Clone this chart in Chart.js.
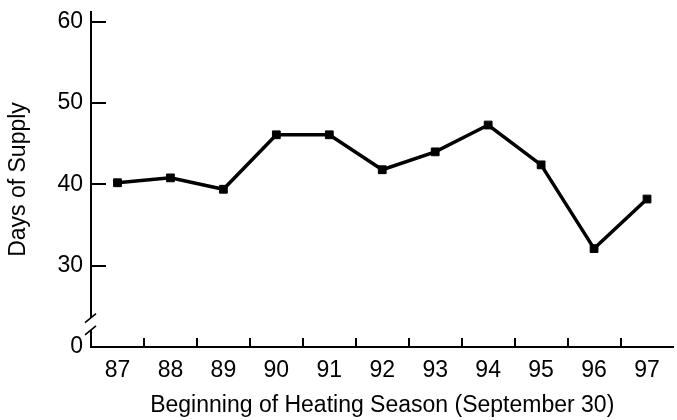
<!DOCTYPE html>
<html>
<head>
<meta charset="utf-8">
<script src="https://cdn.jsdelivr.net/npm/chart.js@4/dist/chart.umd.min.js"></script>
<style>
  html, body { margin: 0; padding: 0; background: #fff; overflow: hidden; }
  #wrap { width: 680px; height: 420px; }
</style>
</head>
<body>
<div id="wrap"><canvas id="supply-line-chart"></canvas></div>
<script>
// heating season start years
var seasons = ['87', '88', '89', '90', '91', '92', '93', '94', '95', '96', '97'];
// days of supply at the start of each season
var daysOfSupply = [40.2, 40.8, 39.4, 46.1, 46.1, 41.8, 44.0, 47.3, 42.4, 32.1, 38.2];
// y axis is broken below 30, the "0" tick sits where 20 would be
var yTickValues = [20, 30, 40, 50, 60];
var yTickLabels = ['0', '30', '40', '50', '60'];

Chart.defaults.font.family = '"Liberation Sans", Arial, sans-serif';
Chart.defaults.color = '#000';

// tick marks drawn inside the plot, plus the axis break
var innerTicks = {
    id: 'innerTicks',
    afterDraw: function(chart){
        var ctx = chart.ctx;
        var x = chart.scales.x, y = chart.scales.y;
        ctx.save();
        ctx.strokeStyle = '#000';
        ctx.lineWidth = 2;
        ctx.beginPath();
        yTickValues.forEach(function(v){
            if (v === yTickValues[0]) return;
            var py = Math.round(y.getPixelForValue(v));
            ctx.moveTo(y.right, py);
            ctx.lineTo(y.right + 15, py);
        });
        for (var i = 1; i < seasons.length; i++) {
            var px = Math.round((x.getPixelForValue(i - 1) + x.getPixelForValue(i)) / 2);
            ctx.moveTo(px, x.top);
            ctx.lineTo(px, x.top - 9);
        }
        ctx.stroke();

        // axis break
        var b1 = y.getPixelForValue(23.6), b2 = y.getPixelForValue(22.1);
        ctx.fillStyle = '#fff';
        ctx.fillRect(y.right - 3, b1, 6, b2 - b1);
        ctx.lineWidth = 1.6;
        ctx.beginPath();
        [b1, b2].forEach(function(b){
            ctx.moveTo(y.right - 6, b + 5);
            ctx.lineTo(y.right + 5, b - 4);
        });
        ctx.stroke();
        ctx.restore();
    }
};

new Chart(document.getElementById('supply-line-chart'), {
    type: 'line',
    data: {
        labels: seasons,
        datasets: [{
            data: daysOfSupply,
            borderColor: '#000',
            backgroundColor: '#000',
            borderWidth: 3.5,
            pointStyle: 'rect',
            pointRadius: 5.5,
            pointBorderWidth: 1,
            tension: 0,
            fill: false
        }]
    },
    options: {
        responsive: true,
        maintainAspectRatio: false,
        animation: false,
        layout: { padding: { top: 12, right: 0, left: 0, bottom: 0 } },
        plugins: { legend: { display: false }, tooltip: { enabled: false } },
        scales: {
            x: {
                offset: true,
                grid: { display: true, drawOnChartArea: false, drawTicks: false, offset: true, color: 'rgba(0,0,0,0)' },
                border: { display: true, color: '#000', width: 2 },
                ticks: { font: { size: 23 }, padding: 10, maxRotation: 0 },
                title: {
                    display: true,
                    text: 'Beginning of Heating Season (September 30)',
                    font: { size: 23 },
                    padding: { top: 0, bottom: 1 }
                },
                afterFit: function(s){
                    s.height = 73;
                    s.paddingLeft = 0;
                    s.paddingRight = 0;
                }
            },
            y: {
                min: 20,
                max: 61.2,
                afterBuildTicks: function(s){
                    s.ticks = yTickValues.map(function(v){ return { value: v }; });
                },
                grid: { display: true, drawOnChartArea: false, drawTicks: false, color: 'rgba(0,0,0,0)' },
                border: { display: true, color: '#000', width: 2 },
                ticks: {
                    font: { size: 23 },
                    padding: 8,
                    callback: function(v){
                        var i = yTickValues.indexOf(v);
                        return i >= 0 ? yTickLabels[i] : '';
                    }
                },
                title: {
                    display: true,
                    text: 'Days of Supply',
                    font: { size: 23 },
                    padding: { top: 5, bottom: 0 }
                },
                afterFit: function(s){
                    s.width = 91;
                    s.paddingTop = 0;
                    s.paddingBottom = 0;
                }
            }
        }
    },
    plugins: [innerTicks]
});
</script>
</body>
</html>
